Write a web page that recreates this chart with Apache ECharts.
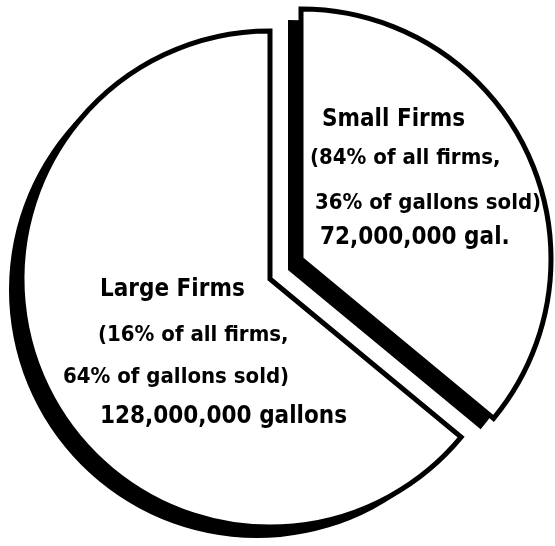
<!DOCTYPE html>
<html>
<head>
<meta charset="utf-8">
<script src="https://cdn.jsdelivr.net/npm/echarts@6/dist/echarts.min.js"></script>
<style>
html,body{margin:0;padding:0;background:#fff;}
#chart{width:555px;height:546px;}
</style>
</head>
<body>
<div id="chart"></div>
<script>
// ---- data ----
const categories = ['Small Firms', 'Large Firms'];
const gallonShares = [36, 64];          // % of gallons sold
const firmShares = [84, 16];            // % of all firms
const gallonLabels = ['72,000,000 gal.', '128,000,000 gallons'];

// ---- label lines built from data ----
const labelLines = categories.map((c, i) => [
  c,
  '(' + firmShares[i] + '% of all firms,',
  gallonShares[i] + '% of gallons sold)',
  gallonLabels[i]
]);

const chart = echarts.init(document.getElementById('chart'), null, {renderer: 'canvas'});

const radii = [250, 248];
const centers = [[301, 259], [270, 279]];   // small slice pulled out
const shadowOff = [-13, 11];

function pieSeries(showIndex, center, fill, withBorder) {
  return {
    type: 'pie',
    center: center,
    radius: radii[showIndex],
    startAngle: 90,
    clockwise: true,
    animation: false,
    silent: true,
    avoidLabelOverlap: false,
    label: {show: false},
    labelLine: {show: false},
    emphasis: {disabled: true},
    data: categories.map((c, i) => ({
      name: c,
      value: gallonShares[i],
      itemStyle: i === showIndex
        ? {color: fill, borderColor: '#000', borderWidth: withBorder ? 5 : 0, borderJoin: 'miter', borderMiterLimit: 20}
        : {color: 'rgba(0,0,0,0)', borderWidth: 0}
    }))
  };
}

const series = [
  pieSeries(1, [centers[1][0] + shadowOff[0], centers[1][1] + shadowOff[1]], '#000', false),
  pieSeries(0, [centers[0][0] + shadowOff[0], centers[0][1] + shadowOff[1]], '#000', false),
  pieSeries(1, centers[1], '#fff', true),
  pieSeries(0, centers[0], '#fff', true)
];

// text positions (left x, middle y) per slice, per line
const textPos = [
  [[322, 120], [310, 158], [315, 203], [320, 238]],
  [[100, 290], [98, 335], [63, 377], [100, 417]]
];
const fontSizes = [24, 22, 22, 24];

const graphic = [];
labelLines.forEach((lines, s) => {
  lines.forEach((t, k) => {
    graphic.push({
      type: 'text',
      x: textPos[s][k][0],
      y: textPos[s][k][1],
      silent: true,
      z: 100,
      style: {
        text: t,
        fill: '#000',
        fontFamily: '"DejaVu Sans Condensed", "DejaVu Sans", sans-serif',
        fontWeight: 'bold',
        fontSize: fontSizes[k],
        align: 'left',
        verticalAlign: 'middle'
      }
    });
  });
});

chart.setOption({
  backgroundColor: '#fff',
  animation: false,
  series: series,
  graphic: graphic
});
</script>
</body>
</html>
